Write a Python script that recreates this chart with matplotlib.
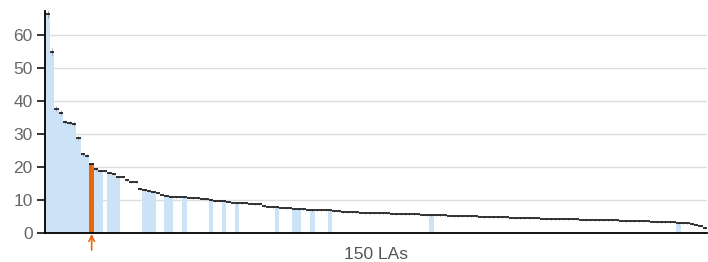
import numpy as np
import matplotlib
matplotlib.use("Agg")
from matplotlib import pyplot as plt

plt.rcParams['font.family'] = ['Liberation Sans', 'DejaVu Sans']

# rate per LA, sorted descending (150 LAs)
values = [
    66.5, 55.0, 37.6, 36.5, 33.6, 33.4, 33.1, 28.8, 23.8, 23.4,
    20.8, 19.3, 18.8, 18.7, 18.1, 17.8, 17.0, 17.0, 16.0, 15.4,
    15.3, 13.4, 13.1, 12.7, 12.4, 12.0, 11.6, 11.3, 11.0, 10.9,
    10.9, 10.8, 10.7, 10.6, 10.5, 10.4, 10.2, 10.0, 9.7, 9.7,
    9.6, 9.5, 9.2, 9.1, 9.1, 9.0, 8.9, 8.8, 8.7, 8.1,
    8.0, 7.9, 7.8, 7.7, 7.6, 7.5, 7.4, 7.3, 7.2, 7.1,
    7.0, 7.0, 6.9, 6.9, 6.8, 6.6, 6.5, 6.4, 6.3, 6.2,
    6.2, 6.15, 6.1, 6.05, 6.0, 6.0, 5.95, 5.9, 5.85, 5.8,
    5.8, 5.75, 5.7, 5.65, 5.6, 5.55, 5.5, 5.4, 5.35, 5.3,
    5.3, 5.25, 5.2, 5.15, 5.1, 5.05, 5.0, 5.0, 4.95, 4.9,
    4.9, 4.85, 4.8, 4.75, 4.7, 4.65, 4.6, 4.55, 4.5, 4.45,
    4.4, 4.4, 4.35, 4.3, 4.3, 4.25, 4.2, 4.2, 4.15, 4.1,
    4.1, 4.05, 4.0, 4.0, 3.95, 3.9, 3.9, 3.85, 3.8, 3.8,
    3.75, 3.7, 3.7, 3.65, 3.6, 3.55, 3.5, 3.45, 3.4, 3.35,
    3.3, 3.25, 3.2, 3.1, 3.0, 2.9, 2.8, 2.5, 2.0, 1.4,
]
highlight = 10
shaded = list(range(0, 10)) + [11, 12, 14, 15, 16, 22, 23, 24, 27, 28,
                               31, 37, 40, 43, 52, 56, 57, 60, 64, 87, 143]
yticks = [0, 10, 20, 30, 40, 50, 60]
xlabel = "150 LAs"

blue = "#cce2f6"
orange = "#ec6608"

x = np.arange(len(values))
vals = np.array(values)

colors = []
for i in x:
    if i == highlight:
        colors.append(orange)
    elif i in shaded:
        colors.append(blue)
    else:
        colors.append("none")

fig = plt.figure(figsize=(7.08, 2.62), dpi=100)
ax = fig.add_axes([0.064, 0.111, 0.935, 0.847])

ax.bar(x, vals, width=1.0, color=colors, linewidth=0, zorder=2)
# small CI whiskers and value markers
ax.errorbar(x, vals, yerr=np.maximum(vals * 0.02, 0.25), fmt="none",
            ecolor="#9a9a9a", elinewidth=0.6, zorder=3)
ax.hlines(vals, x - 0.5, x + 0.5, color="#111111", linewidth=1.2, zorder=4)

ax.set_xlim(-0.5, len(values) - 0.5)
ax.set_ylim(0, 67.3)
ax.set_yticks(yticks)
ax.yaxis.grid(True, color="#dddddd", linewidth=1.0, zorder=0)
ax.set_axisbelow(True)
ax.set_xticks([])

for s in ["top", "right"]:
    ax.spines[s].set_visible(False)
ax.spines["left"].set_color("black")
ax.spines["bottom"].set_color("black")
ax.spines["left"].set_linewidth(1.3)
ax.spines["bottom"].set_linewidth(1.3)
ax.tick_params(axis="y", length=6, width=1.3, color="#222222",
               labelcolor="#666666", labelsize=12.5, pad=3)

ax.set_xlabel(xlabel, color="#555555", fontsize=12.5, labelpad=10)

ax.annotate("", xy=(highlight, -0.3), xytext=(highlight, -5.2),
            xycoords="data", annotation_clip=False,
            arrowprops=dict(arrowstyle="->", color=orange, lw=1.2,
                            shrinkA=0, shrinkB=0))

fig.savefig("out.png", dpi=100)
